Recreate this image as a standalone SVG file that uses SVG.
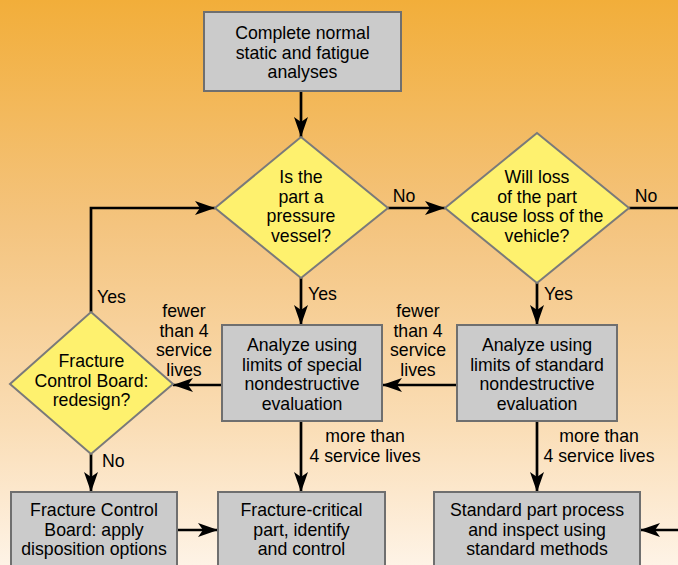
<svg xmlns="http://www.w3.org/2000/svg" width="678" height="565" viewBox="0 0 678 565">
<defs>
<linearGradient id="bg" x1="0" y1="0" x2="0" y2="1">
<stop offset="0" stop-color="#F2AE3A"/>
<stop offset="0.4" stop-color="#F4C47F"/>
<stop offset="0.75" stop-color="#FADDB5"/>
<stop offset="1" stop-color="#FEF3E6"/>
</linearGradient>
<marker id="ah" markerUnits="userSpaceOnUse" markerWidth="20" markerHeight="14" refX="20" refY="7" orient="auto" viewBox="0 0 20 14">
<path d="M0,0 L20,7 L0,14 L5,7 Z" fill="#000"/>
</marker>
</defs>
<style>
.box{fill:#CBCBCB;stroke:#6F6F6F;stroke-width:2}
.dia{fill:#FEF16E;stroke:#7A7A7A;stroke-width:2}
text{font-family:"Liberation Sans",Arial,sans-serif;font-size:17.7px;fill:#000}
.c{text-anchor:middle}
.ln{fill:none;stroke:#000;stroke-width:2.7}
.ar{marker-end:url(#ah)}
</style>
<rect x="0" y="0" width="678" height="565" fill="url(#bg)"/>

<g id="connectors">
<path class="ln ar" d="M301,92 L301,137"/>
<path class="ln ar" d="M388,208 L445,208"/>
<path class="ln ar" d="M629,208 L700,208 L700,530 L640,530"/>
<path class="ln ar" d="M91,312 L91,208 L215,208"/>
<path class="ln ar" d="M301,277 L301,325"/>
<path class="ln ar" d="M537,283 L537,325"/>
<path class="ln ar" d="M222,385 L173,385"/>
<path class="ln ar" d="M457,385 L382,385"/>
<path class="ln ar" d="M91,454 L91,492"/>
<path class="ln ar" d="M177,530 L218,530"/>
<path class="ln ar" d="M301,421 L301,492"/>
<path class="ln ar" d="M537,421 L537,492"/>
<text x="404" y="202" class="c">No</text>
<text x="646" y="202" class="c">No</text>
<text x="97" y="303">Yes</text>
<text x="308" y="300">Yes</text>
<text x="544" y="300">Yes</text>
<text x="102" y="467">No</text>
<text class="c" x="184"><tspan x="184" y="317">fewer</tspan><tspan x="184" y="336.5">than 4</tspan><tspan x="184" y="356">service</tspan><tspan x="184" y="375.5">lives</tspan></text>
<text class="c" x="418"><tspan x="418" y="317">fewer</tspan><tspan x="418" y="336.5">than 4</tspan><tspan x="418" y="356">service</tspan><tspan x="418" y="375.5">lives</tspan></text>
<text class="c"><tspan x="365" y="442">more than</tspan><tspan x="365" y="461.5">4 service lives</tspan></text>
<text class="c"><tspan x="599" y="442">more than</tspan><tspan x="599" y="461.5">4 service lives</tspan></text>
</g>

<g id="n-start">
<rect class="box" x="204" y="12" width="197" height="79"/>
<text class="c"><tspan x="302.5" y="39">Complete normal</tspan><tspan x="302.5" y="58.5">static and fatigue</tspan><tspan x="302.5" y="78">analyses</tspan></text>
</g>

<g id="n-pressure">
<polygon class="dia" points="301,137 388,208 301,278 215,208"/>
<text class="c"><tspan x="301" y="183">Is the</tspan><tspan x="301" y="202.5">part a</tspan><tspan x="301" y="222">pressure</tspan><tspan x="301" y="241.5">vessel?</tspan></text>
</g>

<g id="n-loss">
<polygon class="dia" points="537,133 629,208 537,283 445,208"/>
<text class="c"><tspan x="537" y="183">Will loss</tspan><tspan x="537" y="202.5">of the part</tspan><tspan x="537" y="222">cause loss of the</tspan><tspan x="537" y="241.5">vehicle?</tspan></text>
</g>

<g id="n-special">
<rect class="box" x="222" y="325" width="160" height="96"/>
<text class="c"><tspan x="302" y="351">Analyze using</tspan><tspan x="302" y="370.5">limits of special</tspan><tspan x="302" y="390">nondestructive</tspan><tspan x="302" y="409.5">evaluation</tspan></text>
</g>

<g id="n-standard">
<rect class="box" x="457" y="325" width="160" height="96"/>
<text class="c"><tspan x="537" y="351">Analyze using</tspan><tspan x="537" y="370.5">limits of standard</tspan><tspan x="537" y="390">nondestructive</tspan><tspan x="537" y="409.5">evaluation</tspan></text>
</g>

<g id="n-redesign">
<polygon class="dia" points="91,312 173,384 91,454 10,384"/>
<text class="c"><tspan x="91.5" y="367">Fracture</tspan><tspan x="91.5" y="386.5">Control Board:</tspan><tspan x="91.5" y="406">redesign?</tspan></text>
</g>

<g id="n-disposition">
<rect class="box" x="11" y="492" width="166" height="85"/>
<text class="c"><tspan x="94" y="516">Fracture Control</tspan><tspan x="94" y="535.5">Board: apply</tspan><tspan x="94" y="555">disposition options</tspan></text>
</g>

<g id="n-critical">
<rect class="box" x="218" y="492" width="167" height="85"/>
<text class="c"><tspan x="301.5" y="516">Fracture-critical</tspan><tspan x="301.5" y="535.5">part, identify</tspan><tspan x="301.5" y="555">and control</tspan></text>
</g>

<g id="n-stdpart">
<rect class="box" x="434" y="492" width="206" height="85"/>
<text class="c"><tspan x="537" y="516">Standard part process</tspan><tspan x="537" y="535.5">and inspect using</tspan><tspan x="537" y="555">standard methods</tspan></text>
</g>
</svg>
